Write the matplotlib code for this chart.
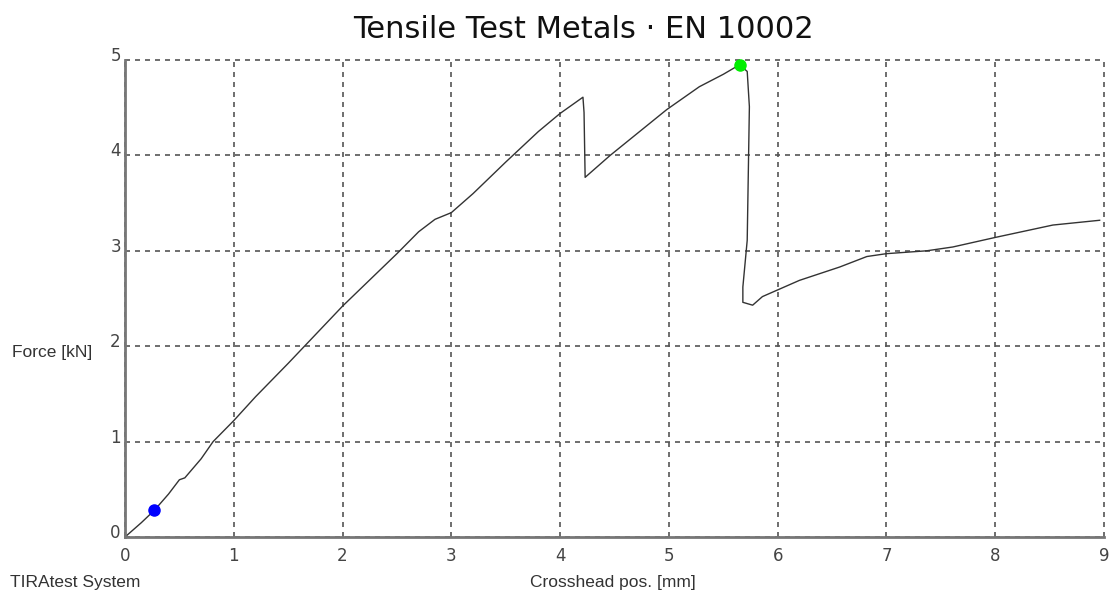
import matplotlib
matplotlib.use('Agg')
import matplotlib.pyplot as plt
import matplotlib.transforms as mtransforms

# crosshead position (mm) and force (kN)
pos = [0.0, 0.05, 0.15, 0.27, 0.4, 0.5, 0.55, 0.7, 0.81, 1.0, 1.2, 1.5, 2.0, 2.5, 2.7, 2.85,
       3.0, 3.2, 3.5, 3.8, 4.0, 4.21, 4.22, 4.23, 4.46, 4.98, 5.28, 5.5, 5.65, 5.72, 5.74,
       5.72, 5.68, 5.68, 5.77, 5.86, 6.0, 6.2, 6.57, 6.82, 7.0, 7.37, 7.61, 8.0, 8.53, 8.96]
force = [0.0, 0.05, 0.15, 0.28, 0.45, 0.6, 0.62, 0.82, 1.0, 1.22, 1.47, 1.82, 2.42, 2.97, 3.2, 3.33,
         3.4, 3.6, 3.93, 4.25, 4.44, 4.61, 4.45, 3.77, 4.0, 4.48, 4.72, 4.85, 4.95, 4.88, 4.51,
         3.11, 2.62, 2.46, 2.43, 2.52, 2.59, 2.69, 2.83, 2.94, 2.97, 3.0, 3.04, 3.14, 3.27, 3.32]
start_pt = (0.27, 0.28)
max_pt = (5.65, 4.95)
xticks = [0, 1, 2, 3, 4, 5, 6, 7, 8, 9]
yticks = [0, 1, 2, 3, 4, 5]

fig = plt.figure(figsize=(11.11, 5.97), dpi=100)
ax = fig.add_axes([125/1111, 1-537/597, 979/1111, 477/597])

ax.plot(pos, force, color='#333333', lw=1.0)
ax.plot(*start_pt, 'o', color='#0000ff', ms=8, clip_on=False, zorder=5)
ax.plot(*max_pt, 'o', color='#00ee00', ms=8, clip_on=False, zorder=5)

ax.set_xlim(0, 9)
ax.set_ylim(0, 5)
ax.set_xticks(xticks)
ax.set_yticks(yticks)
ax.grid(True, color='#555555', ls=(0, (3, 3)), lw=1.2)
for gl in ax.get_xgridlines() + ax.get_ygridlines():
    gl.set_clip_on(False)
for s in ['top', 'right']:
    ax.spines[s].set_visible(False)
for s in ['left', 'bottom']:
    ax.spines[s].set_color('#777777')
    ax.spines[s].set_linewidth(2)
ax.tick_params(length=0, labelsize=12, labelcolor='#444444')
ax.tick_params(axis='x', pad=7)
ax.tick_params(axis='y', pad=3)
off = mtransforms.ScaledTranslation(0, 6/100, fig.dpi_scale_trans)
for lab in ax.get_yticklabels():
    lab.set_transform(lab.get_transform() + off)

fig.text(583/1111, 1-29/597, 'Tensile Test Metals · EN 10002', ha='center', va='center',
         fontsize=22, color='#111111', family='DejaVu Sans')
fig.text(12/1111, 1-352/597, 'Force [kN]', ha='left', va='center', fontsize=12.5,
         color='#333333', family='Liberation Sans')
fig.text(10/1111, 1-583/597, 'TIRAtest System', ha='left', va='center', fontsize=12.5,
         color='#333333', family='Liberation Sans')
fig.text(613/1111, 1-583/597, 'Crosshead pos. [mm]', ha='center', va='center', fontsize=12.5,
         color='#333333', family='Liberation Sans')

fig.savefig('out.png', dpi=100)
